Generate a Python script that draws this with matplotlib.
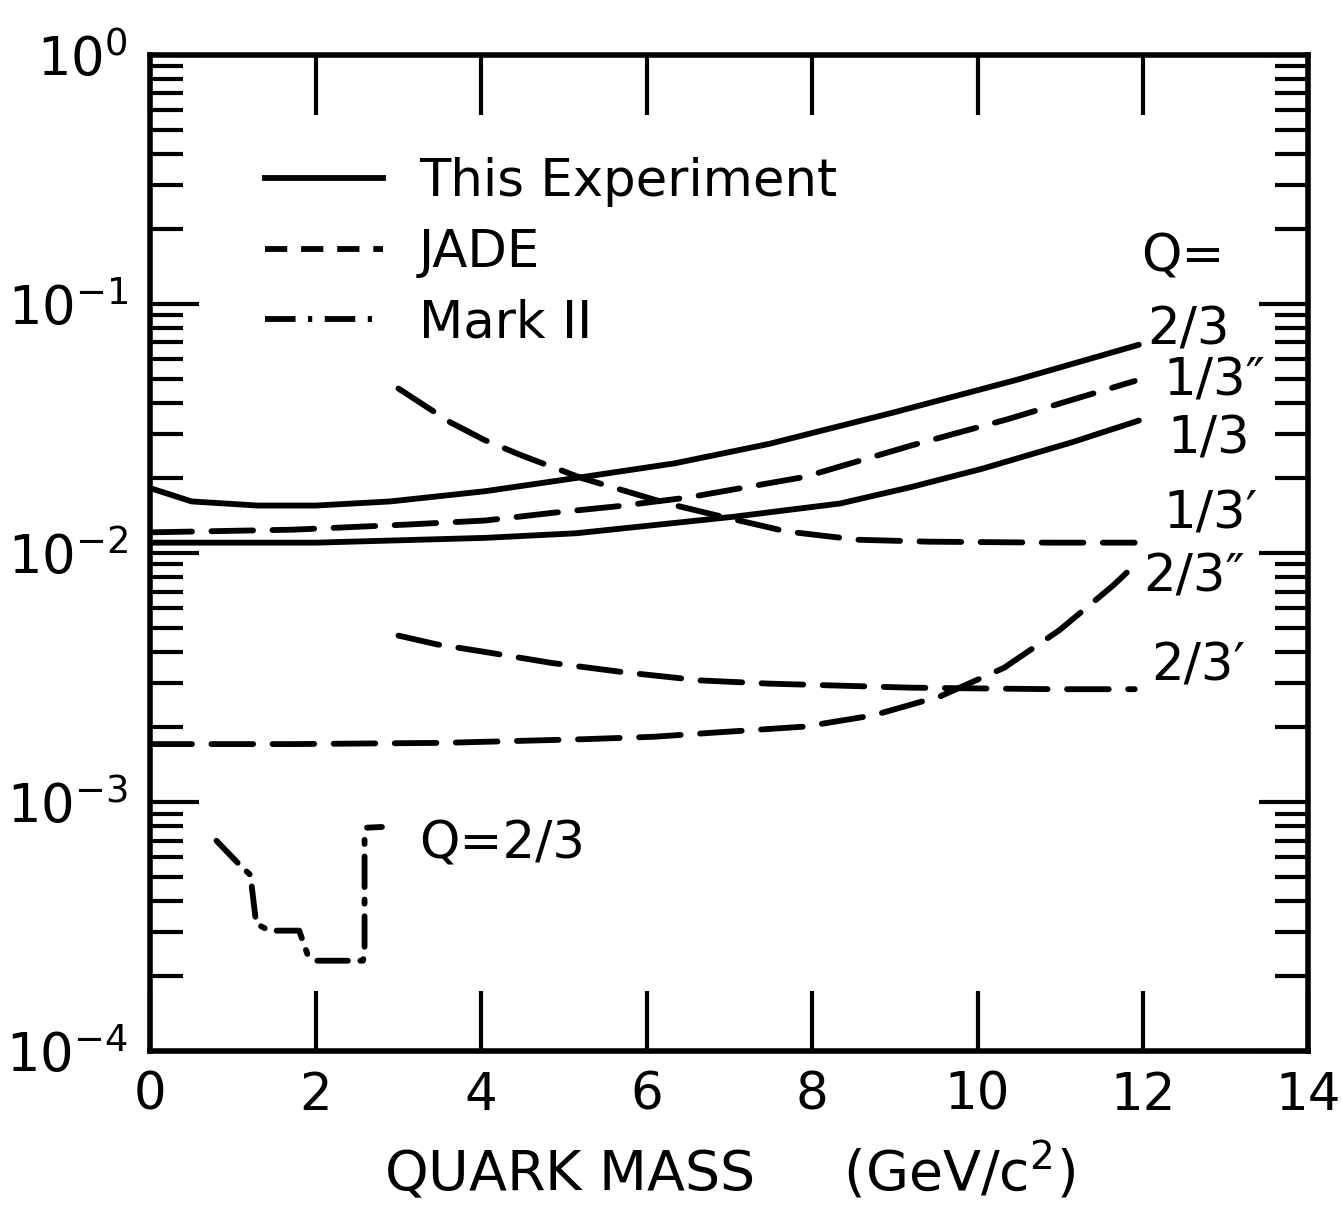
import numpy as np
import matplotlib
matplotlib.use("Agg")
import matplotlib.pyplot as plt
from matplotlib.lines import Line2D
from matplotlib.ticker import LogLocator, NullFormatter, FixedLocator

# quark mass (GeV/c^2) vs ratio
# this experiment (solid)
exp_23_x = [0.0, 0.5, 1.3, 2.0, 2.9, 4.05, 5.15, 6.34, 7.48, 8.98, 10.49, 11.95]
exp_23_y = [0.0182, 0.0161, 0.0155, 0.0155, 0.0161, 0.0177, 0.0200, 0.0229, 0.0274, 0.0366, 0.0497, 0.0685]
exp_13_x = [0.0, 2.0, 4.05, 5.15, 6.34, 7.07, 8.34, 9.2, 10.06, 11.14, 11.95]
exp_13_y = [0.0110, 0.0110, 0.0115, 0.0120, 0.0132, 0.0140, 0.0158, 0.0184, 0.0218, 0.0278, 0.0340]

# JADE (dashed)
jade_13pp_x = [0.0, 1.72, 3.1, 4.05, 4.87, 5.65, 6.5, 7.91, 9.2, 10.36, 11.9]
jade_13pp_y = [0.0121, 0.0124, 0.0130, 0.0135, 0.0145, 0.0154, 0.0167, 0.0202, 0.0270, 0.0344, 0.0490]
jade_13p_x = [3.0, 3.43, 3.63, 4.04, 4.48, 5.21, 6.25, 6.83, 7.69, 8.55, 9.41, 10.91, 11.9]
jade_13p_y = [0.0457, 0.0369, 0.0334, 0.0284, 0.0247, 0.0200, 0.0158, 0.0142, 0.0122, 0.0113, 0.0111, 0.0110, 0.0110]
jade_23p_x = [3.0, 3.46, 4.02, 4.85, 5.73, 6.65, 7.48, 9.2, 10.91, 11.9]
jade_23p_y = [0.00466, 0.00430, 0.00402, 0.00362, 0.00332, 0.00308, 0.00299, 0.00288, 0.00284, 0.00284]
jade_23pp_x = [0.0, 1.72, 3.56, 5.26, 6.09, 6.8, 7.91, 8.74, 9.55, 10.32, 10.99, 11.64, 11.86]
jade_23pp_y = [0.00171, 0.00171, 0.00173, 0.00179, 0.00183, 0.00190, 0.00201, 0.00223, 0.00266,
               0.00346, 0.00490, 0.00741, 0.00869]

# Mark II (dash-dot), Q=2/3
mk2_x = [0.80, 1.08, 1.21, 1.28, 1.44, 1.80, 1.90, 2.00, 2.57, 2.59, 2.59, 2.62, 2.80]
mk2_y = [7.0e-4, 5.6e-4, 5.1e-4, 3.25e-4, 3.05e-4, 3.05e-4, 2.45e-4, 2.31e-4, 2.31e-4,
         2.45e-4, 7.3e-4, 7.9e-4, 7.95e-4]

x_ticks = [0, 2, 4, 6, 8, 10, 12, 14]
y_ticks = [1e-4, 1e-3, 1e-2, 1e-1, 1e0]
y_ticklabels = [r'$10^{-4}$', r'$10^{-3}$', r'$10^{-2}$', r'$10^{-1}$', r'$10^{0}$']
legend_labels = ['This Experiment', 'JADE', 'Mark II']

plt.rcParams['lines.scale_dashes'] = False
plt.rcParams['font.family'] = ['DejaVu Sans']

fig = plt.figure(figsize=(13.42, 12.14), dpi=100)
ax = fig.add_axes([0.112, 0.134, 0.863, 0.821])

lw = 4.2
dash = (30, 14)
dashdot = (22, 9, 3, 9)

ax.plot(exp_23_x, exp_23_y, color='k', lw=lw, solid_capstyle='round', solid_joinstyle='round')
ax.plot(exp_13_x, exp_13_y, color='k', lw=lw, solid_capstyle='round', solid_joinstyle='round')
for xs, ys in [(jade_13pp_x, jade_13pp_y), (jade_13p_x, jade_13p_y),
               (jade_23p_x, jade_23p_y), (jade_23pp_x, jade_23pp_y)]:
    ax.plot(xs, ys, color='k', lw=lw, dashes=dash, dash_capstyle='round', dash_joinstyle='round')
ax.plot(mk2_x, mk2_y, color='k', lw=lw, dashes=dashdot, dash_capstyle='round', dash_joinstyle='round')

ax.set_yscale('log')
ax.set_xlim(0, 14)
ax.set_ylim(1e-4, 1e0)

ax.xaxis.set_major_locator(FixedLocator(x_ticks))
ax.set_xticklabels([str(v) for v in x_ticks])
ax.yaxis.set_major_locator(FixedLocator(y_ticks))
ax.set_yticklabels(y_ticklabels)
ax.yaxis.set_minor_locator(LogLocator(base=10, subs=np.arange(2, 10)))
ax.yaxis.set_minor_formatter(NullFormatter())

ax.tick_params(axis='x', which='major', direction='in', length=43, width=3,
               top=True, bottom=True, labelsize=37, pad=14)
ax.tick_params(axis='y', which='major', direction='in', length=35, width=3,
               left=True, right=True, labelsize=38, pad=16)
ax.tick_params(axis='y', which='minor', direction='in', length=24, width=3,
               left=True, right=True)
for sp in ax.spines.values():
    sp.set_linewidth(4)

ax.set_xlabel('QUARK MASS     (GeV/c$^2$)', fontsize=40, labelpad=14)

handles = [Line2D([], [], color='k', lw=lw),
           Line2D([], [], color='k', lw=lw, dashes=(16, 10)),
           Line2D([], [], color='k', lw=lw, dashes=dashdot)]
ax.legend(handles, legend_labels, loc='upper left',
          bbox_to_anchor=(0.099, 0.897), frameon=False, fontsize=37,
          handlelength=2.3, handletextpad=0.7, labelspacing=0.4,
          borderpad=0, borderaxespad=0)

# curve labels at the right end
lab_fs = 37
ax.text(11.98, 0.153, 'Q=', fontsize=lab_fs, va='center', ha='left')
ax.text(12.05, 0.078, '2/3', fontsize=lab_fs, va='center', ha='left')
ax.text(12.25, 0.0488, '1/3\u2033', fontsize=lab_fs, va='center', ha='left')
ax.text(12.3, 0.0285, '1/3', fontsize=lab_fs, va='center', ha='left')
ax.text(12.25, 0.0143, '1/3\u2032', fontsize=lab_fs, va='center', ha='left')
ax.text(12.0, 0.0080, '2/3\u2033', fontsize=lab_fs, va='center', ha='left')
ax.text(12.1, 0.00351, '2/3\u2032', fontsize=lab_fs, va='center', ha='left')
ax.text(3.25, 6.77e-4, 'Q=2/3', fontsize=lab_fs, va='center', ha='left')

fig.savefig('out.png', dpi=100)
